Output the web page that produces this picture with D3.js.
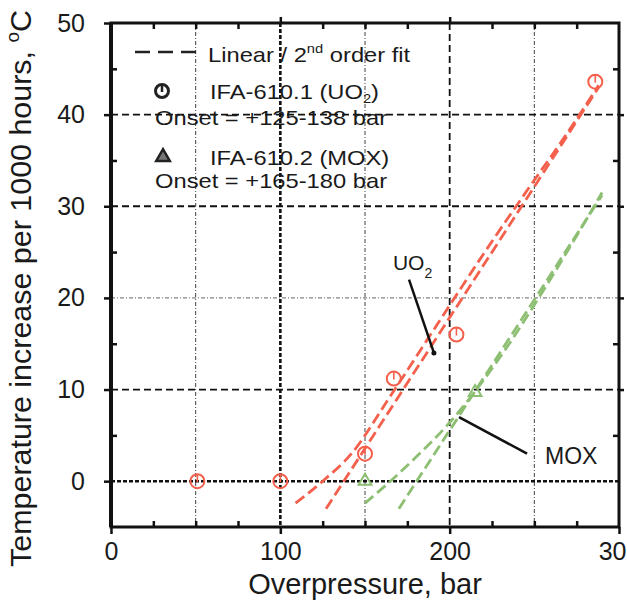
<!DOCTYPE html>
<html>
<head>
<meta charset="utf-8">
<script src="https://cdn.jsdelivr.net/npm/d3@7.9.0/dist/d3.min.js"></script>
<style>
body { margin: 0; background: #fff; }
text { font-family: "Liberation Sans", Arial, sans-serif; fill: #1a1a1a; }
</style>
</head>
<body>
<div id="chart"></div>
<script>
// values
const xTicks = [0, 100, 200, 300];
const yTicks = [0, 10, 20, 30, 40, 50];
const xMinorTicks = [25, 50, 75, 125, 150, 175, 225, 250, 275];
const yMinorTicks = [5, 15, 25, 35, 45];

const xGridHeavy = [100];
const xGridDash = [200];
const xGridThin = [50, 150, 250];
const yGridHeavy = [0];
const yGridDash = [10, 30, 40];
const yGridThin = [20];

// IFA-610.1 (UO2) measurements
const uo2Pressure = [51, 100, 150, 167, 204, 286];
const uo2Temp = [0, 0, 3, 11.2, 16, 43.6];
// IFA-610.2 (MOX) measurements
const moxPressure = [150, 215];
const moxTemp = [0, 9.7];

// fitted curves (pressure, temperature)
const uo2LinFit = [[127, -3], [288, 43]];
const uo2QuadFit = [[109, -2.4], [125, 0], [142, 3], [165, 9.3], [193, 17.2], [220, 24.8], [246, 31.8], [268, 37.6], [288, 43.2]];
const moxLinFit = [[170, -3], [290, 31.2]];
const moxQuadFit = [[150, -2.4], [165, 0], [180, 2.6], [200, 6.4], [230, 13.6], [260, 22.2], [290, 31.5]];

const width = 627;
const height = 601;
const red = '#f4604c';
const green = '#8dbf73';

const svg = d3.select('#chart')
    .append('svg')
    .attr('width', width)
    .attr('height', height);

const x = d3.scaleLinear().domain([0, 300]).range([111, 619]);
const y = d3.scaleLinear().domain([-5, 50]).range([527, 23]);

// gridlines
const grid = svg.append('g').attr('class', 'grid');
function vGrid(vals, w, dash, col) {
    grid.selectAll(null).data(vals).enter().append('line')
        .attr('x1', d => x(d)).attr('x2', d => x(d))
        .attr('y1', y(50)).attr('y2', y(-5))
        .attr('stroke', col).attr('stroke-width', w).attr('stroke-dasharray', dash);
}
function hGrid(vals, w, dash, col) {
    grid.selectAll(null).data(vals).enter().append('line')
        .attr('x1', x(0)).attr('x2', x(300))
        .attr('y1', d => y(d)).attr('y2', d => y(d))
        .attr('stroke', col).attr('stroke-width', w).attr('stroke-dasharray', dash);
}
vGrid(xGridThin, 1, '4,2,1,2', '#444');
hGrid(yGridThin, 1, '4,2,1,2', '#666');
vGrid(xGridDash, 1.8, '7,4', '#111');
hGrid(yGridDash, 1.8, '7,4', '#111');
vGrid(xGridHeavy, 2.6, '4,2', '#111');
hGrid(yGridHeavy, 2.6, '4,2', '#111');

// axes: major ticks outward, minor ticks inward
function styleAxis(g) {
    g.select('.domain').remove();
    g.selectAll('line').attr('stroke', '#111').attr('stroke-width', 2.5);
    g.selectAll('text').attr('font-size', '25px').attr('fill', '#1a1a1a')
        .attr('font-family', '"Liberation Sans", Arial, sans-serif');
}

svg.append('g')
    .attr('transform', `translate(${x(0)},0)`)
    .call(d3.axisLeft(y).tickValues(yTicks).tickSize(7).tickPadding(19))
    .call(styleAxis);
svg.append('g')
    .attr('transform', `translate(${x(0)},0)`)
    .call(d3.axisLeft(y).tickValues(yMinorTicks).tickSize(-6).tickFormat(''))
    .call(styleAxis);
svg.append('g')
    .attr('transform', `translate(0,${y(-5)})`)
    .call(d3.axisBottom(x).tickValues(xTicks).tickSize(7).tickPadding(8))
    .call(styleAxis);
svg.append('g')
    .attr('transform', `translate(0,${y(-5)})`)
    .call(d3.axisBottom(x).tickValues(xMinorTicks).tickSize(-6).tickFormat(''))
    .call(styleAxis);
svg.append('g')
    .attr('transform', `translate(0,${y(50)})`)
    .call(d3.axisTop(x).tickValues([100, 200]).tickSize(6).tickFormat(''))
    .call(styleAxis);
svg.append('g')
    .attr('transform', `translate(0,${y(50)})`)
    .call(d3.axisTop(x).tickValues(xMinorTicks).tickSize(-6).tickFormat(''))
    .call(styleAxis);
svg.append('g')
    .attr('transform', `translate(${x(300)},0)`)
    .call(d3.axisRight(y).tickValues([10, 20, 30, 40]).tickSize(5).tickFormat(''))
    .call(styleAxis);
svg.append('g')
    .attr('transform', `translate(${x(300)},0)`)
    .call(d3.axisRight(y).tickValues(yMinorTicks).tickSize(-6).tickFormat(''))
    .call(styleAxis);

// frame
svg.append('rect')
    .attr('x', x(0)).attr('y', y(50))
    .attr('width', x(300) - x(0)).attr('height', y(-5) - y(50))
    .attr('fill', 'none').attr('stroke', '#111').attr('stroke-width', 3);
svg.append('line')
    .attr('x1', x(0)).attr('x2', x(0)).attr('y1', y(50)).attr('y2', y(-5))
    .attr('stroke', '#111').attr('stroke-width', 4);

// fit lines
const line = d3.line().x(d => x(d[0])).y(d => y(d[1])).curve(d3.curveMonotoneX);
const fits = [
    { pts: uo2QuadFit, col: red },
    { pts: uo2LinFit, col: red },
    { pts: moxQuadFit, col: green },
    { pts: moxLinFit, col: green }
];
svg.append('g').selectAll('path').data(fits).enter().append('path')
    .attr('d', d => line(d.pts))
    .attr('fill', 'none')
    .attr('stroke', d => d.col)
    .attr('stroke-width', 2.8)
    .attr('stroke-dasharray', '11,5');

// UO2 markers: circle with a stroke from the top
const uo2 = svg.append('g').selectAll('g').data(uo2Pressure).enter().append('g')
    .attr('transform', (d, i) => `translate(${x(d)},${y(uo2Temp[i])})`);
uo2.append('circle').attr('r', 7).attr('fill', 'none').attr('stroke', red).attr('stroke-width', 2);
uo2.append('line').attr('x1', 0).attr('x2', 0).attr('y1', -7).attr('y2', 1)
    .attr('stroke', red).attr('stroke-width', 1.6);

// MOX markers
svg.append('g').selectAll('path').data(moxPressure).enter().append('path')
    .attr('transform', (d, i) => `translate(${x(d)},${y(moxTemp[i])})`)
    .attr('d', d3.symbol(d3.symbolTriangle, 70))
    .attr('fill', 'none').attr('stroke', green).attr('stroke-width', 2);

// annotations
const ann = svg.append('g');
ann.append('line')
    .attr('x1', x(176)).attr('y1', y(22)).attr('x2', x(190.7)).attr('y2', y(14))
    .attr('stroke', '#111').attr('stroke-width', 2.5);
ann.append('circle').attr('cx', x(190.7)).attr('cy', y(14)).attr('r', 2.5).attr('fill', '#111');
const uoLab = ann.append('text').attr('x', x(166.5)).attr('y', y(23.1)).attr('font-size', '21px');
uoLab.append('tspan').text('UO');
uoLab.append('tspan').attr('font-size', '14px').attr('dy', 8).text('2');

ann.append('line')
    .attr('x1', x(205.5)).attr('y1', y(7)).attr('x2', x(245.7)).attr('y2', y(3))
    .attr('stroke', '#111').attr('stroke-width', 2.5);
ann.append('text').attr('x', x(256.3)).attr('y', y(1.9)).attr('font-size', '23px').text('MOX');

// legend (text in the scan is a bit wider than the font, hence the x-stretch)
const legend = svg.append('g').attr('class', 'legend');
legend.append('line')
    .attr('x1', 135).attr('x2', 198).attr('y1', 52).attr('y2', 52)
    .attr('stroke', '#222').attr('stroke-width', 2.5).attr('stroke-dasharray', '15,8');

function legText(px, py) {
    return legend.append('text')
        .attr('transform', `translate(${px},${py}) scale(1.13,1)`)
        .attr('font-size', '21px');
}
const l1 = legText(208, 62);
l1.append('tspan').text('Linear / 2');
l1.append('tspan').attr('font-size', '13px').attr('dy', -9).text('nd');
l1.append('tspan').attr('dy', 9).text(' order fit');

const sym = legend.append('g').attr('transform', 'translate(162,91)');
sym.append('circle').attr('r', 6.5).attr('fill', 'none').attr('stroke', '#222').attr('stroke-width', 3);
sym.append('line').attr('x1', 0).attr('x2', 0).attr('y1', -6).attr('y2', 1).attr('stroke', '#222').attr('stroke-width', 2.5);

const l2 = legText(210, 99);
l2.append('tspan').text('IFA-610.1 (UO');
l2.append('tspan').attr('font-size', '13px').attr('dy', 4).text('2');
l2.append('tspan').attr('dy', -4).text(')');
legText(155, 125).text('Onset = +125-138 bar');

legend.append('path')
    .attr('transform', 'translate(163,157)')
    .attr('d', d3.symbol(d3.symbolTriangle, 80))
    .attr('fill', '#777').attr('stroke', '#222').attr('stroke-width', 2.5);
legText(210, 165).text('IFA-610.2 (MOX)');
legText(155, 188).text('Onset = +165-180 bar');

// axis titles
svg.append('text')
    .attr('x', (x(0) + x(300)) / 2)
    .attr('y', 594)
    .attr('text-anchor', 'middle')
    .attr('font-size', '29px')
    .text('Overpressure, bar');

const yt = svg.append('text')
    .attr('transform', 'translate(31,10) rotate(-90) scale(1.05,1)')
    .attr('text-anchor', 'end')
    .attr('font-size', '29px');
yt.append('tspan').text('Temperature increase per 1000 hours, ');
yt.append('tspan').attr('font-size', '18px').attr('dy', -12).text('o');
yt.append('tspan').attr('dy', 12).text('C');
</script>
</body>
</html>
